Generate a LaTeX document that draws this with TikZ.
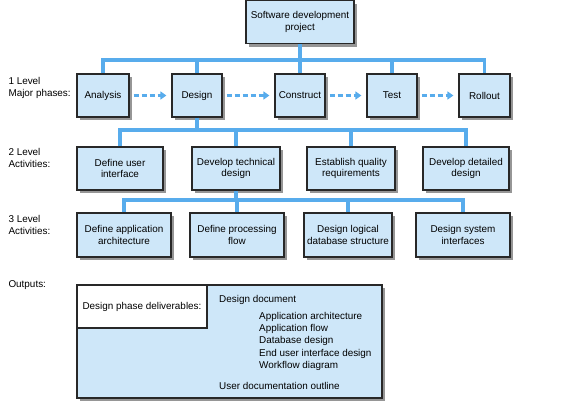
\documentclass[tikz,border=0pt]{standalone}
\usepackage{fontspec}
\setmainfont{Liberation Sans}
\definecolor{boxblue}{RGB}{206, 231, 249}
\definecolor{busblue}{RGB}{88, 172, 236}
\definecolor{edgegray}{RGB}{40, 40, 40}
\definecolor{shadowgray}{RGB}{150, 150, 150}
\usetikzlibrary{shadows, arrows.meta, positioning, calc}

\begin{document}
\begin{tikzpicture}[x=1pt, y=-1pt,
    every node/.style={font=\fontsize{9.9}{11.8}\selectfont},
    wbs/.style={draw=edgegray, line width=1.2pt, fill=boxblue, align=center, minimum height=43pt, inner sep=2pt,
      drop shadow={shadow xshift=3pt, shadow yshift=-3pt, fill=shadowgray, opacity=1}},
    bus/.style={draw=busblue, line width=3.2pt},
    flow/.style={draw=busblue, line width=3pt, dash pattern=on 5pt off 3pt, -{Triangle[length=6pt, width=8pt]}, shorten <=4pt, shorten >=5pt},
    lvl/.style={anchor=west, align=left}]
  \useasboundingbox (0,0) rectangle (561,407);

  % Project
  \node[wbs, minimum width=108pt] (project) at (300,22) {Software development\\project};

  % 1 Level: major phases
  \node[lvl] (lvl1) at (5,88) {1 Level\\Major phases:};
  \node[wbs, minimum width=52pt] (analysis) at (103,95.5) {Analysis};
  \node[wbs, minimum width=50pt] (design) at (197,95.5) {Design};
  \node[wbs, minimum width=50pt] (construct) at (300,95.5) {Construct};
  \node[wbs, minimum width=50pt] (test) at (392,95.5) {Test};
  \node[wbs, minimum width=51pt] (rollout) at (484.5,95.5) {Rollout};

  \coordinate (b1) at (0,60);
  \draw[bus] (analysis.north) |- (b1 -| rollout.north) -- (rollout.north);
  \foreach \n in {design, construct, test}
    \draw[bus] (\n.north) -- (\n.north |- b1);
  \draw[bus] (project.south) -- (project.south |- b1);

  \draw[flow] (analysis) -- (design);
  \draw[flow] (design) -- (construct);
  \draw[flow] (construct) -- (test);
  \draw[flow] (test) -- (rollout);

  % 2 Level: activities
  \node[lvl] (lvl2) at (5,158) {2 Level\\Activities:};
  \node[wbs, minimum width=86pt] (userif) at (120,168.5) {Define user\\interface};
  \node[wbs, minimum width=88pt] (techdesign) at (236,168.5) {Develop technical\\design};
  \node[wbs, minimum width=88pt] (quality) at (351,168.5) {Establish quality\\requirements};
  \node[wbs, minimum width=86pt] (detailed) at (466,168.5) {Develop detailed\\design};

  \coordinate (b2) at (0,130);
  \draw[bus] (design.south) -- (design.south |- b2);
  \draw[bus] (userif.north) |- (b2 -| detailed.north) -- (detailed.north);
  \draw[bus] (techdesign.north) -- (techdesign.north |- b2);
  \draw[bus] (quality.north) -- (quality.north |- b2);

  % 3 Level: activities
  \node[lvl] (lvl3) at (5,225) {3 Level\\Activities:};
  \node[wbs, minimum width=94pt, minimum height=44pt] (apparch) at (124,235) {Define application\\architecture};
  \node[wbs, minimum width=94pt, minimum height=44pt] (procflow) at (237,235) {Define processing\\flow};
  \node[wbs, minimum width=88pt, minimum height=44pt] (logicaldb) at (348,235) {Design logical\\database structure};
  \node[wbs, minimum width=94pt, minimum height=44pt] (sysif) at (463,235) {Design system\\interfaces};

  \coordinate (b3) at (0,200);
  \draw[bus] (techdesign.south) -- (techdesign.south |- b3);
  \draw[bus] (apparch.north) |- (b3 -| sysif.north) -- (sysif.north);
  \draw[bus] (procflow.north) -- (procflow.north |- b3);
  \draw[bus] (logicaldb.north) -- (logicaldb.north |- b3);

  % Outputs
  \node[lvl] (outputs) at (5,285) {Outputs:};
  \node[wbs, minimum width=305pt, minimum height=113pt] (deliv) at (229.5,341.5) {};
  \node[draw=edgegray, line width=1.2pt, fill=white, minimum width=130pt, minimum height=43pt, anchor=north west, inner sep=2pt]
    (phase) at (deliv.north west) {Design phase deliverables:};
  \node[anchor=west, inner sep=0pt] (designdoc) at (219,300) {Design document};
  \node[anchor=north west, align=left, inner sep=0pt, font=\fontsize{9.9}{12.3}\selectfont] (docitems) at (259,312)
    {Application architecture\\Application flow\\Database design\\End user interface design\\Workflow diagram};
  \node[anchor=west, inner sep=0pt] (userdoc) at (219,386) {User documentation outline};
\end{tikzpicture}
\end{document}
